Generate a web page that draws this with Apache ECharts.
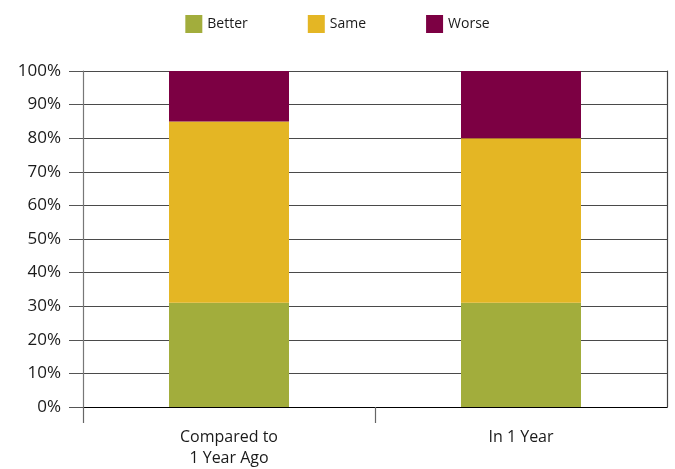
<!DOCTYPE html>
<html>
<head>
<meta charset="utf-8">
<script src="https://cdn.jsdelivr.net/npm/echarts@6/dist/echarts.min.js"></script>
<style>
html,body{margin:0;padding:0;background:#fff;}
#chart{width:675px;height:469px;}
</style>
</head>
<body>
<div id="chart"></div>
<script>
var categories = ['Compared to\n1 Year Ago', 'In 1 Year'];
var better = [31, 31];
var same = [54, 49];
var worse = [15, 20];
var yTicks = [0, 10, 20, 30, 40, 50, 60, 70, 80, 90, 100];
var xTickPositions = [0, 1];

var font = '"Open Sans", sans-serif';
var chart = echarts.init(document.getElementById('chart'), null, {renderer: 'canvas'});
chart.setOption({
  animation: false,
  legend: {
    top: 10,
    left: 'center',
    itemWidth: 17,
    itemHeight: 18,
    itemGap: 60,
    icon: 'rect',
    textStyle: {fontFamily: font, fontSize: 14, color: '#1a1a1a'},
    data: ['Better', 'Same', 'Worse']
  },
  grid: {left: 83, right: 8, top: 71, bottom: 58},
  xAxis: [{
    type: 'category',
    data: categories,
    axisLine: {lineStyle: {color: '#000', width: 1.2}},
    axisTick: {show: false},
    axisLabel: {fontFamily: font, fontSize: 16, color: '#1a1a1a', lineHeight: 21, margin: 20}
  }, {
    type: 'value',
    position: 'bottom',
    min: 0,
    max: 2,
    interval: 1,
    axisLine: {show: false},
    axisTick: {show: true, length: 16, customValues: xTickPositions, lineStyle: {color: '#666', width: 1.2}},
    axisLabel: {show: false},
    splitLine: {show: false}
  }],
  yAxis: [{
    type: 'value',
    min: 0,
    max: 100,
    interval: 10,
    axisLine: {show: true, lineStyle: {color: '#777', width: 1.2}},
    axisTick: {show: true, length: 14, lineStyle: {color: '#555'}},
    axisLabel: {
      fontFamily: font, fontSize: 17, color: '#1a1a1a', margin: 22,
      formatter: function (v) { return yTicks.indexOf(v) >= 0 ? v + '%' : ''; }
    },
    splitLine: {show: true, lineStyle: {color: '#4a4a4a', width: 1}}
  }, {
    type: 'value',
    position: 'right',
    min: 0,
    max: 100,
    interval: 10,
    axisLine: {show: true, lineStyle: {color: '#444', width: 1.2}},
    axisTick: {show: false},
    axisLabel: {show: false},
    splitLine: {show: false}
  }],
  series: [
    {name: 'Better', type: 'bar', stack: 'a', barWidth: 120, data: better, itemStyle: {color: '#A2AD3C'}},
    {name: 'Same', type: 'bar', stack: 'a', barWidth: 120, data: same, itemStyle: {color: '#E4B624'}},
    {name: 'Worse', type: 'bar', stack: 'a', barWidth: 120, data: worse, itemStyle: {color: '#7C0043'}}
  ]
});
</script>
</body>
</html>
